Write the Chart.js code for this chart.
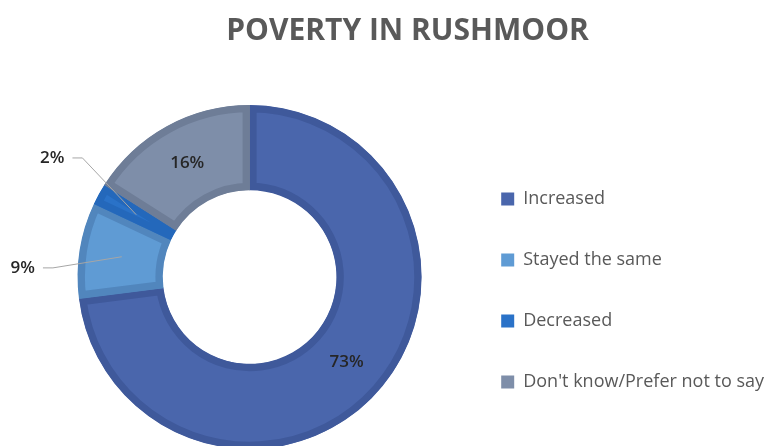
<!DOCTYPE html>
<html>
<head>
<meta charset="utf-8">
<title>Poverty in Rushmoor</title>
<script src="https://cdn.jsdelivr.net/npm/chart.js"></script>
<style>
    html, body { margin: 0; padding: 0; background: #ffffff; overflow: hidden; }
    canvas { display: block; }
</style>
</head>
<body>
<canvas id="poverty-chart" width="774" height="446"></canvas>
<script>
// 回答データ
const categories = ['Increased', 'Stayed the same', 'Decreased', "Don't know/Prefer not to say"];
const shares = [73, 9, 2, 16];
const percentLabels = ['73%', '9%', '2%', '16%'];

// 色（塗りと縁取り）
const fillColors = ['#4a66ac', '#5f9bd4', '#2a72c8', '#7e8ea9'];
const edgeColors = ['#3f599b', '#5186bd', '#2468bb', '#6e7d97'];

// 外側に出すラベル（引き出し線つき）の配置: 角度(度, 上から時計回り) と 半径の倍率
const outsideCallouts = {
    1: { angle: 272.3, dist: 1.32 },
    2: { angle: 301.1, dist: 1.34 }
};

const labelFont = '600 17px "Open Sans", sans-serif';
const textColor = '#595959';

// 値ラベルと引き出し線を描くプラグイン
const sliceLabels = {
    id: 'sliceLabels',
    afterDatasetsDraw(chart) {
        const ctx = chart.ctx;
        const meta = chart.getDatasetMeta(0);
        ctx.save();
        ctx.font = labelFont;
        ctx.fillStyle = '#262626';
        ctx.textAlign = 'center';
        ctx.textBaseline = 'middle';
        meta.data.forEach((arc, i) => {
            const p = arc.getProps(['x', 'y', 'startAngle', 'endAngle', 'innerRadius', 'outerRadius'], true);
            const mid = (p.startAngle + p.endAngle) / 2;
            const midR = (p.innerRadius + p.outerRadius) / 2;
            const ax = p.x + Math.cos(mid) * midR;
            const ay = p.y + Math.sin(mid) * midR;
            const callout = outsideCallouts[i];
            if (!callout) {
                ctx.fillText(percentLabels[i], ax, ay);
                return;
            }
            // 上から時計回りの角度をキャンバスの角度へ
            const a = (callout.angle - 90) * Math.PI / 180;
            const lx = p.x + Math.cos(a) * p.outerRadius * callout.dist;
            const ly = p.y + Math.sin(a) * p.outerRadius * callout.dist;
            ctx.fillText(percentLabels[i], lx, ly);
            const w = ctx.measureText(percentLabels[i]).width;
            ctx.strokeStyle = '#a6a6a6';
            ctx.lineWidth = 1;
            ctx.beginPath();
            ctx.moveTo(lx + w / 2 + 8, ly);
            ctx.lineTo(lx + w / 2 + 18, ly);
            ctx.lineTo(ax, ay);
            ctx.stroke();
        });
        ctx.restore();
    }
};

const chart = new Chart(document.getElementById('poverty-chart'), {
    type: 'doughnut',
    data: {
        labels: categories,
        datasets: [{
            data: shares,
            backgroundColor: fillColors,
            borderColor: edgeColors,
            borderWidth: 7,
            borderAlign: 'inner',
            clip: false
        }]
    },
    options: {
        responsive: false,
        animation: false,
        events: [],
        radius: 172,
        cutout: '50.5%',
        layout: {
            padding: { left: 41, right: 0, top: 0, bottom: 0 }
        },
        plugins: {
            title: {
                display: true,
                text: 'POVERTY IN RUSHMOOR',
                color: textColor,
                font: { family: '"Open Sans", sans-serif', size: 30, weight: 'bold' },
                padding: { top: 13, bottom: 59 }
            },
            legend: {
                position: 'right',
                // 空のタイトルで項目を下げる
                title: {
                    display: true,
                    text: '',
                    font: { size: 10 },
                    padding: { top: 123, bottom: 0 }
                },
                labels: {
                    color: textColor,
                    font: { family: '"Open Sans", sans-serif', size: 18 },
                    boxWidth: 13,
                    boxHeight: 13,
                    padding: 43,
                    generateLabels(chart) {
                        const items = Chart.controllers.doughnut.overrides.plugins.legend.labels.generateLabels(chart);
                        return items.map((item, i) => Object.assign(item, {
                            fillStyle: fillColors[i],
                            strokeStyle: fillColors[i],
                            lineWidth: 0
                        }));
                    }
                }
            },
            tooltip: { enabled: false }
        }
    },
    plugins: [sliceLabels]
});
</script>
</body>
</html>
